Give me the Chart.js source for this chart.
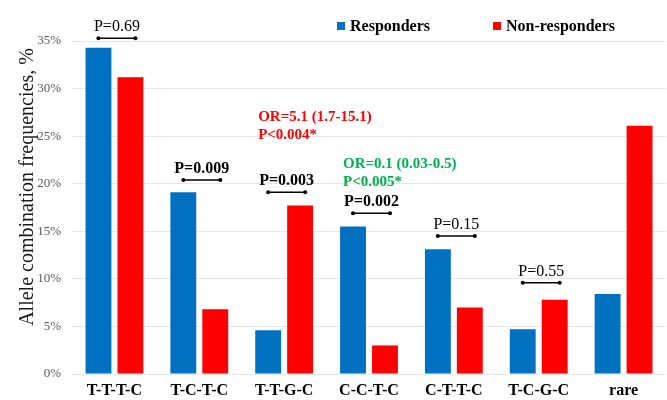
<!DOCTYPE html>
<html>
<head>
<meta charset="utf-8">
<script src="https://cdn.jsdelivr.net/npm/chart.js@4"></script>
<style>
  html, body { margin: 0; padding: 0; background: #fff; }
  #wrap { width: 667px; height: 400px; }
</style>
</head>
<body>
<div id="wrap"><canvas id="grafico"></canvas></div>
<script>
const combinaciones = ['T-T-T-C', 'T-C-T-C', 'T-T-G-C', 'C-C-T-C', 'C-T-T-C', 'T-C-G-C', 'rare'];
const responders = [34.3, 19.1, 4.6, 15.5, 13.1, 4.7, 8.4];
const noResponders = [31.2, 6.8, 17.7, 3.0, 7.0, 7.8, 26.1];
const yTicks = [0, 5, 10, 15, 20, 25, 30, 35];

// p-values for each pair, with the height (in %) of the bracket over the bars
const pTextos = ['P=0.69', 'P=0.009', 'P=0.003', 'P=0.002', 'P=0.15', 'P=0.55'];
const pNegrita = [false, true, true, true, false, false];
const pNiveles = [35.3, 20.4, 19.1, 16.9, 14.5, 9.6];

// odds ratio notes: category index, lines, colour, level of first baseline
const orNotas = [
  { cat: 2, lineas: ['OR=5.1 (1.7-15.1)', 'P<0.004*'], color: '#ff0000', nivel: 26.6 },
  { cat: 3, lineas: ['OR=0.1 (0.03-0.5)', 'P<0.005*'], color: '#00b050', nivel: 21.6 }
];

const tituloY = 'Allele combination frequencies, %';

const AZUL = '#0070c0';
const ROJO = '#ff0000';
const SERIF = "'Liberation Serif', 'Times New Roman', serif";

const anotaciones = {
  id: 'anotaciones',
  afterDatasetsDraw(chart) {
    const ctx = chart.ctx;
    const x = chart.scales.x;
    const y = chart.scales.y;
    ctx.save();

    // brackets + p-values
    pTextos.forEach((txt, i) => {
      const cx = x.getPixelForValue(i);
      const yy = y.getPixelForValue(pNiveles[i]);
      const x1 = cx - 16, x2 = cx + 21;
      ctx.strokeStyle = '#000';
      ctx.fillStyle = '#000';
      ctx.lineWidth = 1.5;
      ctx.beginPath();
      ctx.moveTo(x1, yy);
      ctx.lineTo(x2, yy);
      ctx.stroke();
      [x1, x2].forEach(px => {
        ctx.beginPath();
        ctx.arc(px, yy, 2, 0, Math.PI * 2);
        ctx.fill();
      });
      ctx.font = (pNegrita[i] ? 'bold ' : '') + '16px ' + SERIF;
      ctx.textAlign = 'center';
      ctx.textBaseline = 'alphabetic';
      ctx.fillText(txt, (x1 + x2) / 2, yy - 7);
    });

    // OR notes
    orNotas.forEach(n => {
      const left = x.getPixelForValue(n.cat) - 26;
      const top = y.getPixelForValue(n.nivel);
      ctx.font = 'bold 15px ' + SERIF;
      ctx.fillStyle = n.color;
      ctx.textAlign = 'left';
      n.lineas.forEach((l, k) => ctx.fillText(l, left, top + k * 18));
    });

    // legend
    const items = [['Responders', AZUL, 337], ['Non-responders', ROJO, 493]];
    ctx.font = 'bold 16px ' + SERIF;
    items.forEach(([label, color, lx]) => {
      ctx.fillStyle = color;
      ctx.fillRect(lx, 22, 8, 8);
      ctx.fillStyle = '#000';
      ctx.fillText(label, lx + 13, 31);
    });

    // y axis title, sits a little above the middle of the plot
    ctx.translate(28, 187);
    ctx.rotate(-Math.PI / 2);
    ctx.font = '20px ' + SERIF;
    ctx.fillStyle = '#1a1a1a';
    ctx.textAlign = 'center';
    ctx.textBaseline = 'middle';
    ctx.fillText(tituloY, 0, 0);
    ctx.restore();
  }
};

new Chart(document.getElementById('grafico'), {
  type: 'bar',
  data: {
    labels: combinaciones,
    datasets: [
      { label: 'Responders', data: responders, backgroundColor: AZUL },
      { label: 'Non-responders', data: noResponders, backgroundColor: ROJO }
    ]
  },
  options: {
    responsive: true,
    maintainAspectRatio: false,
    animation: false,
    categoryPercentage: 0.753,
    barPercentage: 0.81,
    layout: { padding: { top: 41, right: 1, left: 0, bottom: 0 } },
    plugins: {
      legend: { display: false },
      tooltip: { enabled: false }
    },
    scales: {
      x: {
        grid: { display: false, drawTicks: false },
        border: { display: false },
        ticks: {
          color: '#000',
          padding: 7,
          font: { family: SERIF, size: 16, weight: 'bold' }
        },
        afterFit: s => { s.height = 26; }
      },
      y: {
        min: 0,
        max: 35,
        afterBuildTicks: s => { s.ticks = yTicks.map(v => ({ value: v })); },
        grid: { color: '#e6e6e6', lineWidth: 1, drawTicks: false },
        border: { display: false },
        ticks: {
          color: '#595959',
          padding: 11,
          font: { family: SERIF, size: 13 },
          callback: v => v + '%'
        },
        afterFit: s => { s.width = 72; }
      }
    }
  },
  plugins: [anotaciones]
});
</script>
</body>
</html>
